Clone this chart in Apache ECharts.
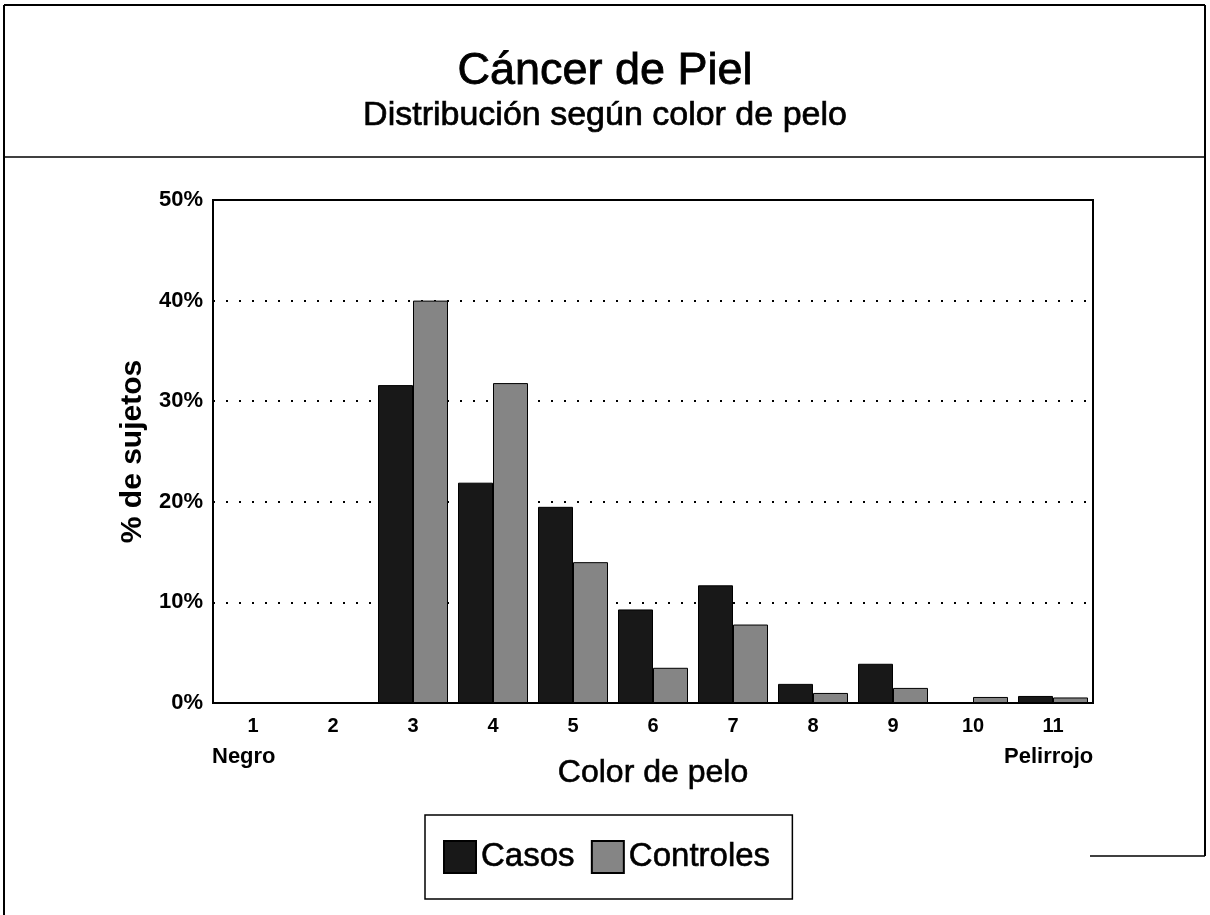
<!DOCTYPE html>
<html>
<head>
<meta charset="utf-8">
<title>Cáncer de Piel</title>
<script src="https://cdn.jsdelivr.net/npm/echarts@6/dist/echarts.min.js"></script>
<style>
  html, body { margin: 0; padding: 0; background: #fff; }
  #main { width: 1210px; height: 915px; }
</style>
</head>
<body>
<div id="main"></div>
<script>
// datos
var categorias = ['1', '2', '3', '4', '5', '6', '7', '8', '9', '10', '11'];
var casos = [0, 0, 31.6, 21.9, 19.5, 9.3, 11.7, 1.9, 3.9, 0, 0.7];
var controles = [0, 0, 40.0, 31.8, 14.0, 3.5, 7.8, 1.0, 1.5, 0.6, 0.55];
var ticksY = [0, 10, 20, 30, 40, 50];

var fuente = '"Liberation Sans", Arial, sans-serif';

var myChart = echarts.init(document.getElementById('main'));
var option = {
    backgroundColor: '#fff',
    animation: false,
    textStyle: { fontFamily: fuente, color: '#000' },
    title: {
        text: 'Cáncer de Piel',
        subtext: 'Distribución según color de pelo',
        left: 'center',
        top: 44,
        itemGap: 4,
        textStyle: { fontFamily: fuente, fontSize: 45, fontWeight: 'normal', color: '#000',
            textBorderColor: '#000', textBorderWidth: 0.8 },
        subtextStyle: { fontFamily: fuente, fontSize: 34, color: '#000',
            textBorderColor: '#000', textBorderWidth: 0.7 }
    },
    legend: {
        data: ['Casos', 'Controles'],
        left: 425,
        top: 815,
        padding: [25, 22, 25, 18],
        itemWidth: 32,
        itemHeight: 32,
        itemGap: 16,
        borderColor: '#000',
        borderWidth: 1.5,
        borderRadius: 0,
        textStyle: { fontFamily: fuente, fontSize: 33, color: '#000',
            textBorderColor: '#000', textBorderWidth: 0.6 },
        icon: 'rect'
    },
    grid: {
        left: 213,
        right: 117,
        top: 200,
        bottom: 212,
        show: true,
        borderColor: '#000',
        borderWidth: 2,
        containLabel: false
    },
    xAxis: {
        type: 'category',
        data: categorias,
        boundaryGap: true,
        name: 'Color de pelo',
        nameLocation: 'middle',
        nameGap: 54,
        nameTextStyle: { fontFamily: fuente, fontSize: 32, color: '#000',
            textBorderColor: '#000', textBorderWidth: 0.6 },
        axisLine: { lineStyle: { color: '#000', width: 2 } },
        axisTick: { show: false },
        axisLabel: { margin: 13, fontFamily: fuente, fontSize: 20, fontWeight: 'bold', color: '#000' }
    },
    yAxis: {
        type: 'value',
        min: ticksY[0],
        max: ticksY[ticksY.length - 1],
        interval: 10,
        name: '% de sujetos',
        nameLocation: 'middle',
        nameGap: 63,
        nameTextStyle: { fontFamily: fuente, fontSize: 30, fontWeight: 'bold', color: '#000' },
        axisLine: { show: true, lineStyle: { color: '#000', width: 2 } },
        axisTick: { show: false },
        axisLabel: { margin: 10, fontFamily: fuente, fontSize: 22, fontWeight: 'bold', color: '#000',
            formatter: '{value}%' },
        splitLine: { show: true, lineStyle: { color: '#000', width: 2, type: [2, 11] } }
    },
    series: [
        {
            name: 'Casos',
            type: 'bar',
            data: casos,
            barGap: '0%',
            barCategoryGap: '12.5%',
            itemStyle: { color: '#181818', borderColor: '#000', borderWidth: 1 }
        },
        {
            name: 'Controles',
            type: 'bar',
            data: controles,
            itemStyle: { color: '#858585', borderColor: '#000', borderWidth: 1 }
        }
    ],
    graphic: [
        { type: 'line', shape: { x1: 4, y1: 5, x2: 1205, y2: 5 }, style: { stroke: '#000', lineWidth: 2 } },
        { type: 'line', shape: { x1: 4, y1: 5, x2: 4, y2: 915 }, style: { stroke: '#000', lineWidth: 2 } },
        { type: 'line', shape: { x1: 1205, y1: 5, x2: 1205, y2: 856 }, style: { stroke: '#000', lineWidth: 2 } },
        { type: 'line', shape: { x1: 1090, y1: 856, x2: 1205, y2: 856 }, style: { stroke: '#000', lineWidth: 1.5 } },
        { type: 'line', shape: { x1: 4, y1: 157, x2: 1205, y2: 157 }, style: { stroke: '#000', lineWidth: 1.5 } },
        { type: 'text', left: 212, top: 746,
          style: { text: 'Negro', font: 'bold 22px ' + fuente, fill: '#000' } },
        { type: 'text', left: 1004, top: 746,
          style: { text: 'Pelirrojo', font: 'bold 22px ' + fuente, fill: '#000' } }
    ]
};
myChart.setOption(option);
</script>
</body>
</html>
